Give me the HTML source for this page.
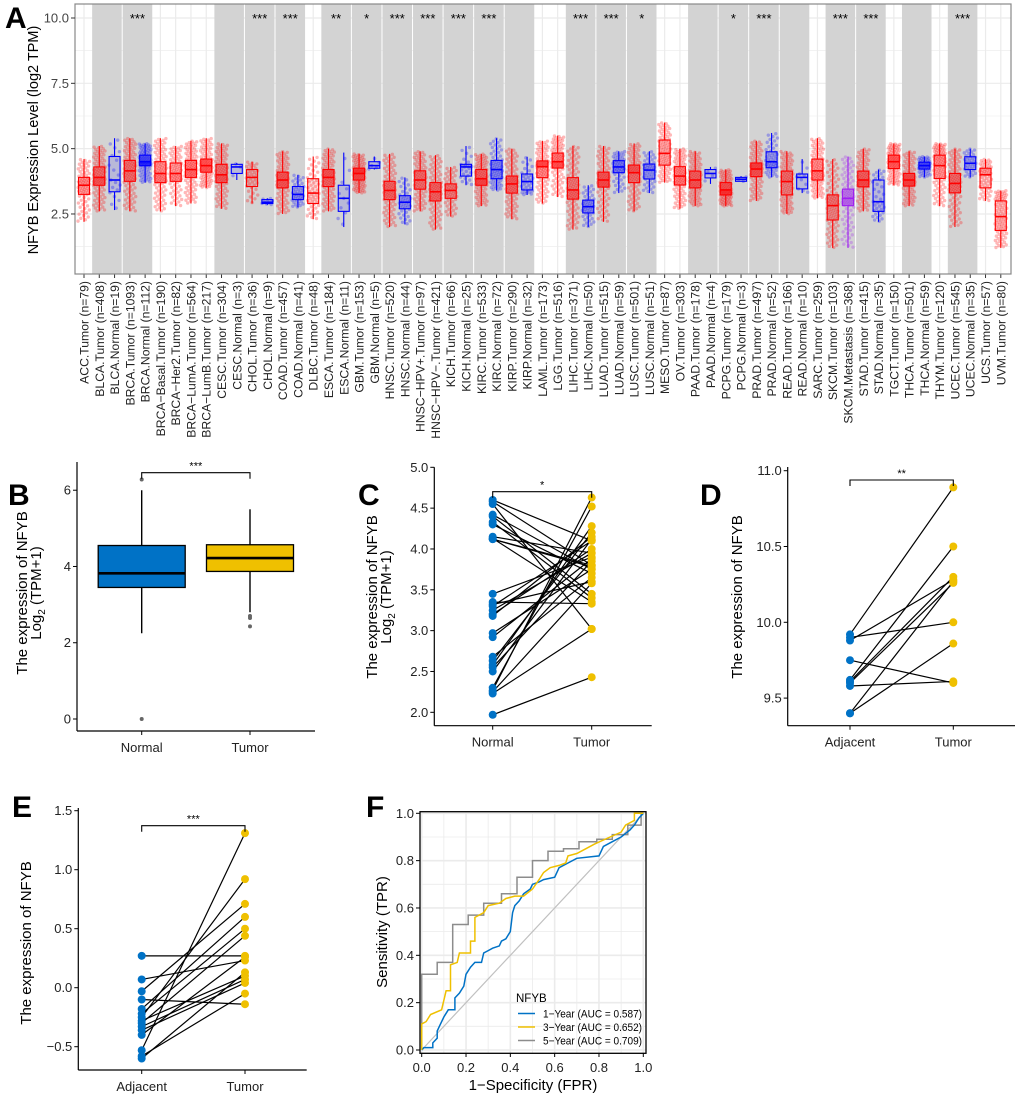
<!DOCTYPE html>
<html><head><meta charset="utf-8"><title>NFYB figure</title>
<style>
html,body{margin:0;padding:0;background:#fff;}
svg{display:block;font-family:"Liberation Sans",Arial,sans-serif;}
</style></head>
<body>
<svg id="fig" width="1020" height="1097" viewBox="0 0 1020 1097" xmlns="http://www.w3.org/2000/svg"></svg>
<script>
// ---------- Panel A data ----------
const catLabels = ["ACC.Tumor","BLCA.Tumor","BLCA.Normal","BRCA.Tumor","BRCA.Normal","BRCA\u2212Basal.Tumor","BRCA\u2212Her2.Tumor","BRCA\u2212LumA.Tumor","BRCA\u2212LumB.Tumor","CESC.Tumor","CESC.Normal","CHOL.Tumor","CHOL.Normal","COAD.Tumor","COAD.Normal","DLBC.Tumor","ESCA.Tumor","ESCA.Normal","GBM.Tumor","GBM.Normal","HNSC.Tumor","HNSC.Normal","HNSC\u2212HPV+.Tumor","HNSC\u2212HPV\u2212.Tumor","KICH.Tumor","KICH.Normal","KIRC.Tumor","KIRC.Normal","KIRP.Tumor","KIRP.Normal","LAML.Tumor","LGG.Tumor","LIHC.Tumor","LIHC.Normal","LUAD.Tumor","LUAD.Normal","LUSC.Tumor","LUSC.Normal","MESO.Tumor","OV.Tumor","PAAD.Tumor","PAAD.Normal","PCPG.Tumor","PCPG.Normal","PRAD.Tumor","PRAD.Normal","READ.Tumor","READ.Normal","SARC.Tumor","SKCM.Tumor","SKCM.Metastasis","STAD.Tumor","STAD.Normal","TGCT.Tumor","THCA.Tumor","THCA.Normal","THYM.Tumor","UCEC.Tumor","UCEC.Normal","UCS.Tumor","UVM.Tumor"];
const catN = [79,408,19,1093,112,190,82,564,217,304,3,36,9,457,41,48,184,11,153,5,520,44,97,421,66,25,533,72,290,32,173,516,371,50,515,59,501,51,87,303,178,4,179,3,497,52,166,10,259,103,368,415,35,150,501,59,120,545,35,57,80];
const whiskLo = [2.2,2.6,2.65,2.6,3.7,2.6,2.8,2.9,3.5,2.7,3.8,2.9,2.85,2.5,2.75,2.3,2.6,2.0,3.3,4.2,2.0,2.1,2.6,1.9,2.4,3.6,2.8,3.4,2.3,3.23,2.9,3.15,1.9,2.0,2.2,3.3,2.6,3.3,3.7,2.7,2.8,3.65,2.8,3.75,3.0,3.9,2.5,3.3,3.1,1.2,1.2,2.6,2.2,3.6,2.8,3.9,2.8,2.0,3.9,3.0,1.2];
const q1 = [3.25,3.6,3.35,3.75,4.35,3.7,3.75,3.9,4.1,3.7,4.05,3.55,2.9,3.5,3.05,2.9,3.55,2.6,3.8,4.25,3.05,2.7,3.45,3.0,3.1,3.95,3.6,3.85,3.3,3.42,3.89,4.26,3.07,2.54,3.53,4.08,3.7,3.84,4.37,3.61,3.5,3.88,3.23,3.75,3.93,4.27,3.23,3.46,3.8,2.27,2.82,3.54,2.6,4.24,3.57,4.22,3.86,3.31,4.2,3.5,1.87];
const med = [3.6,3.9,3.8,4.15,4.5,4.05,4.05,4.2,4.35,4.0,4.3,3.9,2.95,3.8,3.25,3.3,3.9,3.1,4.05,4.35,3.4,2.95,3.8,3.35,3.4,4.3,3.85,4.2,3.65,3.74,4.31,4.5,3.42,2.78,3.8,4.3,4.08,4.18,4.82,3.95,3.8,4.05,3.42,3.83,4.22,4.5,3.74,3.9,4.15,2.82,3.1,3.8,2.97,4.5,3.8,4.35,4.35,3.67,4.44,4.0,2.4];
const q3 = [3.9,4.3,4.7,4.55,4.75,4.5,4.45,4.55,4.6,4.4,4.4,4.2,3.05,4.1,3.55,3.85,4.2,3.6,4.25,4.5,3.75,3.2,4.15,3.7,3.65,4.4,4.2,4.55,3.95,4.03,4.53,4.83,3.89,3.03,4.1,4.54,4.37,4.41,5.33,4.31,4.14,4.2,3.7,3.9,4.45,4.88,4.14,4.03,4.6,3.23,3.45,4.14,3.8,4.75,4.05,4.48,4.75,4.05,4.69,4.25,3.0];
const whiskHi = [4.6,5.1,5.4,5.4,5.2,5.4,5.1,5.3,5.4,5.2,4.45,4.5,3.1,4.9,4.0,4.7,5.0,4.85,4.8,4.7,4.8,3.9,4.9,4.75,4.3,5.1,4.8,5.4,5.0,4.69,5.3,5.5,5.1,3.6,5.1,4.9,5.2,4.9,6.0,5.0,4.9,4.3,4.2,3.95,5.3,5.6,4.9,4.6,5.4,4.6,4.7,5.0,4.2,5.2,4.9,4.7,5.2,5.0,5.0,4.6,3.4];
const starLabels = ["","","","***","","","","","","","","***","","***","","","**","","*","","***","","***","","***","","***","","","","","","***","","***","","*","","","","","","*","","***","","","","","***","","***","","","","","","***","","",""];
const yTicksA = [2.5,5.0,7.5,10.0];

// ---------- Panel B data ----------
const groupsB = ["Normal","Tumor"];
const bLo=[2.25,2.8], bQ1=[3.45,3.87], bMed=[3.82,4.22], bQ3=[4.55,4.57], bHi=[6.0,5.5];
const outNormalB=[6.28,0.0], outTumorB=[2.7,2.65,2.43];
const yTicksB=[0,2,4,6];

// ---------- Panel C data ----------
const normalC=[4.6,4.58,4.55,4.42,4.4,4.33,4.3,4.15,4.13,4.12,4.12,3.45,3.35,3.32,3.3,3.25,3.2,3.18,2.97,2.92,2.68,2.63,2.58,2.55,2.5,2.3,2.27,2.25,2.23,1.97];
const tumorC=[4.1,3.8,3.02,3.75,3.45,3.4,3.7,3.95,3.35,3.8,3.78,3.9,3.33,3.6,4.1,3.95,4.0,4.15,3.75,3.88,3.65,4.2,4.28,3.85,4.12,4.52,4.63,3.58,3.02,2.43];
const yTicksC=[2.0,2.5,3.0,3.5,4.0,4.5,5.0];

// ---------- Panel D data ----------
const adjD=[9.92,9.88,9.9,9.75,9.62,9.6,9.58,9.61,9.4,9.4];
const tumD=[10.89,10.28,10.0,9.6,10.5,10.26,9.61,10.3,10.27,9.86];
const yTicksD=[9.5,10.0,10.5,11.0];

// ---------- Panel E data ----------
const adjE=[0.27,0.07,-0.03,-0.1,-0.18,-0.22,-0.25,-0.28,-0.3,-0.33,-0.36,-0.4,-0.53,-0.58,-0.6];
const tumE=[0.27,0.23,0.71,-0.14,0.6,0.5,0.92,0.1,0.44,0.07,0.04,0.26,1.31,-0.05,0.13];
const yTicksE=[-0.5,0.0,0.5,1.0,1.5];

// ---------- Panel F data ----------
const fpr1=[0,0.01,0.05,0.05,0.07,0.07,0.08,0.1,0.12,0.15,0.15,0.17,0.19,0.2,0.22,0.24,0.27,0.28,0.3,0.32,0.35,0.36,0.38,0.4,0.41,0.42,0.44,0.46,0.49,0.5,0.53,0.55,0.6,0.62,0.66,0.7,0.8,0.82,0.86,0.9,0.94,0.96,0.98,1];
const tpr1=[0,0.01,0.01,0.03,0.05,0.08,0.1,0.14,0.17,0.17,0.22,0.24,0.27,0.32,0.35,0.37,0.37,0.41,0.42,0.43,0.44,0.46,0.47,0.5,0.58,0.61,0.63,0.66,0.68,0.7,0.71,0.72,0.73,0.77,0.79,0.81,0.82,0.86,0.88,0.9,0.93,0.95,0.98,1];
const fpr3=[0,0,0.02,0.04,0.09,0.11,0.13,0.13,0.16,0.17,0.22,0.22,0.24,0.24,0.28,0.3,0.35,0.38,0.42,0.46,0.5,0.53,0.55,0.58,0.62,0.65,0.66,0.7,0.74,0.78,0.85,0.9,0.92,0.96,0.96,1];
const tpr3=[0,0.11,0.12,0.15,0.17,0.25,0.25,0.36,0.37,0.41,0.41,0.46,0.46,0.56,0.58,0.61,0.62,0.64,0.65,0.65,0.68,0.72,0.75,0.77,0.78,0.79,0.82,0.83,0.85,0.87,0.9,0.92,0.95,0.97,1,1];
const fpr5=[0,0,0.07,0.07,0.14,0.14,0.21,0.21,0.28,0.28,0.36,0.36,0.43,0.43,0.5,0.5,0.57,0.57,0.64,0.64,0.71,0.71,0.79,0.79,0.86,0.86,0.93,0.93,0.99,0.99,1];
const tpr5=[0,0.32,0.32,0.37,0.37,0.53,0.53,0.57,0.57,0.62,0.62,0.66,0.66,0.73,0.73,0.8,0.8,0.84,0.84,0.85,0.85,0.88,0.88,0.89,0.89,0.91,0.91,0.95,0.95,1,1];
const legendF=["1\u2212Year (AUC = 0.587)","3\u2212Year (AUC = 0.652)","5\u2212Year (AUC = 0.709)"];
const ticksF=[0,0.2,0.4,0.6,0.8,1.0];

const NS="http://www.w3.org/2000/svg";
const svg=document.getElementById('fig');
function mk(tag,attrs,parent,text){const e=document.createElementNS(NS,tag);for(const k in attrs)e.setAttribute(k,attrs[k]);if(text!==undefined)e.textContent=text;(parent||svg).appendChild(e);return e;}
function grp(parent){return mk('g',{},parent);}

// ================= PANEL A =================
const gA=grp();


const Ax0=75,Ax1=1011,Ay0=4,Ay1=274;
const xA=i=>84+i*15.28;
const yA=v=>18+(10-v)*26.13;
mk('rect',{x:Ax0,y:Ay0,width:Ax1-Ax0,height:Ay1-Ay0,fill:'#fff'},gA);
for(let v=1.25;v<=10.5;v+=1.25){mk('line',{x1:Ax0,x2:Ax1,y1:yA(v),y2:yA(v),stroke:'#ebebeb','stroke-width':(v%2.5===0?1.2:0.6)},gA);}
catLabels.forEach((c,i)=>{mk('line',{x1:xA(i),x2:xA(i),y1:Ay0,y2:Ay1,stroke:'#ebebeb','stroke-width':1.2},gA);});
const pairStarts=[1,3,9,11,13,16,18,20,22,24,26,28,32,34,36,40,42,44,46,49,51,54,57];
pairStarts.forEach(s=>{const r=mk('rect',{x:xA(s)-7.64+0.5,y:Ay0,width:15.28*2-1,height:Ay1-Ay0,fill:'#d3d3d3'},gA);

});
starLabels.forEach((s,i)=>{if(!s)return;const t=mk('text',{x:xA(i)+7.64,y:yA(10)+5,'font-size':13,'text-anchor':'middle',fill:'#000'},gA,s);

});
function qv(i,p){const qs=[whiskLo[i],q1[i],med[i],q3[i],whiskHi[i]];const pp=[0,0.25,0.5,0.75,1];for(let k=1;k<5;k++){if(p<=pp[k]){const f=(p-pp[k-1])/0.25;return qs[k-1]+f*(qs[k]-qs[k-1]);}}return qs[4];}
catLabels.forEach((c,i)=>{
  const col=c.indexOf('Metastasis')>=0?'#a020f0':(c.indexOf('Normal')>=0?'#0000ff':'#ff0000');
  const g=grp(gA);
  
  
  const m=Math.min(catN[i],110);
  for(let k=0;k<m;k++){const p=(k+0.5)/m;const v=qv(i,p);const fr=((k*0.6180339+i*0.3183)%1);const jx=(fr-0.5)*12;
    mk('circle',{cx:xA(i)+jx,cy:yA(v),r:1.7,fill:col,'fill-opacity':0.28},g);}
  const cx=xA(i),w=11;
  mk('line',{x1:cx,x2:cx,y1:yA(whiskHi[i]),y2:yA(q3[i]),stroke:col,'stroke-width':1.1},g);
  mk('line',{x1:cx,x2:cx,y1:yA(q1[i]),y2:yA(whiskLo[i]),stroke:col,'stroke-width':1.1},g);
  mk('rect',{x:cx-w/2,y:yA(q3[i]),width:w,height:yA(q1[i])-yA(q3[i]),fill:col,'fill-opacity':0.12,stroke:col,'stroke-width':1.1},g);
  mk('line',{x1:cx-w/2,x2:cx+w/2,y1:yA(med[i]),y2:yA(med[i]),stroke:col,'stroke-width':1.6},g);
  mk('line',{x1:cx,x2:cx,y1:Ay1,y2:Ay1+4,stroke:'#333','stroke-width':1},gA);
  const t=mk('text',{transform:`translate(${cx+4.5},281) rotate(-90)`,'font-size':12.2,'text-anchor':'end',fill:'#222'},gA,`${c} (n=${catN[i]})`);
  
  
});
mk('rect',{x:Ax0,y:Ay0,width:Ax1-Ax0,height:Ay1-Ay0,fill:'none',stroke:'#888','stroke-width':1.2},gA);
yTicksA.forEach(v=>{mk('line',{x1:Ax0-4,x2:Ax0,y1:yA(v),y2:yA(v),stroke:'#333'},gA);
  const t=mk('text',{x:Ax0-6,y:yA(v)+4.5,'font-size':13,'text-anchor':'end',fill:'#444'},gA,v.toFixed(1));
  
  });
const yta=mk('text',{transform:'translate(38,140) rotate(-90)','font-size':14.5,'text-anchor':'middle',fill:'#000'},gA,'NFYB Expression Level (log2 TPM)');


const la=mk('text',{x:5,y:28,'font-size':30,'font-weight':'bold'},gA,'A');



function axes(g,L,B,R,T,ticks,yf,fmt,xs,xlabels){
  mk('line',{x1:L,x2:L,y1:T,y2:B,stroke:'#000','stroke-width':1.2},g);
  mk('line',{x1:L,x2:R,y1:B,y2:B,stroke:'#000','stroke-width':1.2},g);
  ticks.forEach(v=>{mk('line',{x1:L-4,x2:L,y1:yf(v),y2:yf(v),stroke:'#000'},g);
    const t=mk('text',{x:L-6,y:yf(v)+4.5,'font-size':13,'text-anchor':'end',fill:'#222'},g,fmt(v));
    
    });
  xs.forEach((x,i)=>{mk('line',{x1:x,x2:x,y1:B,y2:B+4,stroke:'#000'},g);
    const t=mk('text',{x:x,y:B+21,'font-size':13,'text-anchor':'middle',fill:'#222'},g,xlabels[i]);
    
    });
}
function bracket(g,x1,x2,y,s){mk('path',{d:`M${x1},${y+6}V${y}H${x2}V${y+6}`,fill:'none',stroke:'#000','stroke-width':1.1},g);
  const t=mk('text',{x:(x1+x2)/2,y:y-3,'font-size':11,'text-anchor':'middle'},g,s);
  
  }
function letter(g,ch,x,y){const t=mk('text',{x:x,y:y,'font-size':30,'font-weight':'bold'},g,ch);
  
  }
function ytitle2(g,x,y,l1,sub){const t=mk('text',{transform:`translate(${x},${y}) rotate(-90)`,'font-size':15,'text-anchor':'middle'},g);
  
  
  mk('tspan',{x:0,dy:0},t,l1);
  if(sub){mk('tspan',{x:0,dy:14},t,'Log');mk('tspan',{'font-size':10,dy:4},t,'2');mk('tspan',{dy:-4},t,' (TPM+1)');}
  return t;}

// ================= PANEL B =================
const gB=grp();


const yB=v=>719-v*38.13;
const xB=[141.7,250];
const colsB=['#0072c6','#efc000'];
groupsB.forEach((gname,i)=>{const g=grp(gB);
  
  
  const cx=xB[i],w=87;
  mk('line',{x1:cx,x2:cx,y1:yB(bHi[i]),y2:yB(bLo[i]),stroke:'#000','stroke-width':1.4},g);
  mk('rect',{x:cx-w/2,y:yB(bQ3[i]),width:w,height:yB(bQ1[i])-yB(bQ3[i]),fill:colsB[i],stroke:'#000','stroke-width':1.3},g);
  mk('line',{x1:cx-w/2,x2:cx+w/2,y1:yB(bMed[i]),y2:yB(bMed[i]),stroke:'#000','stroke-width':2.6},g);
  (i===0?outNormalB:outTumorB).forEach(v=>mk('circle',{cx:cx,cy:yB(v),r:2,fill:'#666'},g));
});
axes(gB,77,731,315,462,yTicksB,yB,v=>String(v),xB,groupsB);
bracket(gB,xB[0],xB[1],472.7,'***');
ytitle2(gB,27,593,'The expression of NFYB',true);
letter(gB,'B',8,505);

// ================= PANEL C =================
const gC=grp();


const yC=v=>467.3+(5-v)*81.67;
const xC=[492.7,591.7];
normalC.forEach((v,i)=>{const l=mk('line',{x1:xC[0],y1:yC(v),x2:xC[1],y2:yC(tumorC[i]),stroke:'#000','stroke-width':1.2},gC);
  
  });
normalC.forEach(v=>{const c=mk('circle',{cx:xC[0],cy:yC(v),r:4,fill:'#0072c6'},gC);
  
  });
tumorC.forEach(v=>{const c=mk('circle',{cx:xC[1],cy:yC(v),r:4,fill:'#efc000'},gC);
  
  });
axes(gC,434.3,725.7,651.7,467.3,yTicksC,yC,v=>v.toFixed(1),xC,['Normal','Tumor']);
bracket(gC,xC[0],xC[1],491.7,'*');
ytitle2(gC,377,597,'The expression of NFYB',true);
letter(gC,'C',358,505);

// ================= PANEL D =================
const gD=grp();


const yD=v=>470.7+(11-v)*151.6;
const xD=[850,953.3];
adjD.forEach((v,i)=>{const l=mk('line',{x1:xD[0],y1:yD(v),x2:xD[1],y2:yD(tumD[i]),stroke:'#000','stroke-width':1.2},gD);
  
  });
adjD.forEach(v=>{const c=mk('circle',{cx:xD[0],cy:yD(v),r:4,fill:'#0072c6'},gD);
  
  });
tumD.forEach(v=>{const c=mk('circle',{cx:xD[1],cy:yD(v),r:4,fill:'#efc000'},gD);
  
  });
axes(gD,787.7,725.7,1015,467,yTicksD,yD,v=>v.toFixed(1),xD,['Adjacent','Tumor']);
bracket(gD,xD[0],xD[1],480,'**');
ytitle2(gD,742,597,'The expression of NFYB',false);
letter(gD,'D',700,505);

// ================= PANEL E =================
const gE=grp();


const yE=v=>810.7+(1.5-v)*118;
const xE=[141.7,245];
adjE.forEach((v,i)=>{const l=mk('line',{x1:xE[0],y1:yE(v),x2:xE[1],y2:yE(tumE[i]),stroke:'#000','stroke-width':1.2},gE);
  
  });
adjE.forEach(v=>{const c=mk('circle',{cx:xE[0],cy:yE(v),r:4,fill:'#0072c6'},gE);
  
  });
tumE.forEach(v=>{const c=mk('circle',{cx:xE[1],cy:yE(v),r:4,fill:'#efc000'},gE);
  
  });
axes(gE,78.3,1070,306.7,808,yTicksE,yE,v=>(v<0?'\u2212':'')+Math.abs(v).toFixed(1),xE,['Adjacent','Tumor']);
bracket(gE,xE[0],xE[1],825.7,'***');
ytitle2(gE,31,943,'The expression of NFYB',false);
letter(gE,'E',12,817);

// ================= PANEL F =================
const gF=grp();


const xF=v=>421.7+v*221.6;
const yF=v=>1050-v*236.7;
mk('rect',{x:420,y:811.7,width:226,height:241.6,fill:'#fff'},gF);
for(let v=0;v<=1.001;v+=0.1){const maj=Math.round(v*10)%2===0;
  mk('line',{x1:xF(v),x2:xF(v),y1:811.7,y2:1053.3,stroke:'#ebebeb','stroke-width':maj?1.6:0.8},gF);
  mk('line',{x1:420,x2:646,y1:yF(v),y2:yF(v),stroke:'#ebebeb','stroke-width':maj?1.6:0.8},gF);}
mk('line',{x1:xF(0),y1:yF(0),x2:xF(1),y2:yF(1),stroke:'#c0c0c0','stroke-width':1.2},gF);
function roc(fx,ty,col,name){const d=fx.map((f,i)=>(i?'L':'M')+xF(f).toFixed(1)+','+yF(ty[i]).toFixed(1)).join('');
  const p=mk('path',{d:d,fill:'none',stroke:col,'stroke-width':1.5},gF);
  
  }
roc(fpr5,tpr5,'#8c8c8c','roc-5-year');
roc(fpr1,tpr1,'#0072c6','roc-1-year');
roc(fpr3,tpr3,'#efc000','roc-3-year');
mk('rect',{x:420,y:811.7,width:226,height:241.6,fill:'none',stroke:'#000','stroke-width':1.3},gF);
ticksF.forEach(v=>{mk('line',{x1:416,x2:420,y1:yF(v),y2:yF(v),stroke:'#000'},gF);
  const t=mk('text',{x:414,y:yF(v)+4.5,'font-size':13,'text-anchor':'end',fill:'#222'},gF,v.toFixed(1));
  
  
  mk('line',{x1:xF(v),x2:xF(v),y1:1053.3,y2:1057,stroke:'#000'},gF);
  const t2=mk('text',{x:xF(v),y:1072,'font-size':13,'text-anchor':'middle',fill:'#222'},gF,v.toFixed(1));
  
  });
const lg=grp(gF);


mk('text',{x:516,y:1002,'font-size':11.5},lg,'NFYB');
const legCols=['#0072c6','#efc000','#8c8c8c'];
legendF.forEach((s,i)=>{const y=1013.5+i*13.5;
  mk('line',{x1:518,x2:535,y1:y,y2:y,stroke:legCols[i],'stroke-width':1.6},lg);
  const t=mk('text',{x:543,y:y+4,'font-size':10.8,textLength:99,lengthAdjust:'spacingAndGlyphs'},lg,s);
  
  });
const xtf=mk('text',{x:533,y:1090,'font-size':15,'text-anchor':'middle'},gF,'1\u2212Specificity (FPR)');


const ytf=mk('text',{transform:'translate(387,932) rotate(-90)','font-size':15,'text-anchor':'middle'},gF,'Sensitivity (TPR)');


letter(gF,'F',366,817);
</script>
</body></html>
